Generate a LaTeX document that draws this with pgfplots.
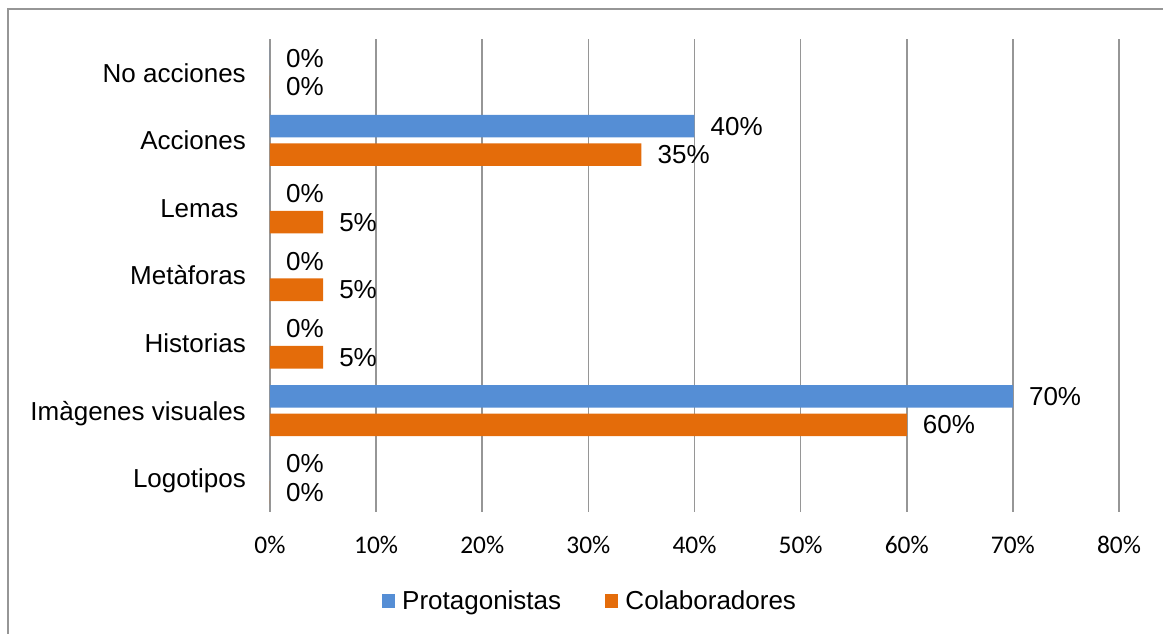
\documentclass[border=0pt]{standalone}
\usepackage{fontspec}
\setmainfont{Liberation Sans}
\newfontfamily\carlito{Carlito}
\usepackage{pgfplots}
\pgfplotsset{compat=1.18}

\definecolor{protblue}{RGB}{85,142,213}
\definecolor{colorange}{RGB}{228,108,10}
\definecolor{gridgray}{RGB}{150,150,150}

\newcommand{\bigtext}{\fontsize{26}{31}\selectfont}

\begin{document}
\begin{tikzpicture}
\begin{axis}[
  at={(0pt,0pt)}, anchor=south west,
  scale only axis,
  width=849pt, height=473pt,
  xbar, bar width=22.6pt,
  xmin=0, xmax=80, ymin=-0.5, ymax=6.5,
  clip=false,
  axis line style={draw=none},
  major tick length=0pt,
  xmajorgrids,
  grid style={gridgray, line width=1.5pt},
  xtick={0,10,...,80},
  xticklabels={0\%,10\%,20\%,30\%,40\%,50\%,60\%,70\%,80\%},
  xticklabel style={font=\carlito\fontsize{25.4}{30}\selectfont, anchor=base, inner sep=0pt, yshift=-42pt},
  ytick={0,...,6},
  yticklabels={Logotipos, Imàgenes visuales, Historias, Metàforas, {Lemas\kern7.5pt}, Acciones, No acciones},
  yticklabel style={font=\bigtext, anchor=base east, inner sep=0pt, xshift=-24pt, yshift=-9.4pt},
  /pgf/number format/assume math mode=true,
  point meta=x,
  nodes near coords={\pgfmathprintnumber{\pgfplotspointmeta}\%},
  nodes near coords style={font=\bigtext, anchor=west, inner sep=0pt, xshift=16pt, text=black},
  legend columns=2,
  legend style={draw=none, fill=none, inner sep=0pt, font=\bigtext,
    at={(0.13157,-0.18816)}, anchor=west,
    column sep=5pt,
    /tikz/every even column/.append style={column sep=42pt}},
  legend image code/.code={\fill[#1,draw=none] (0pt,-6.65pt) rectangle (13.3pt,6.65pt);},
]
% Protagonistas (upper bar of each pair)
\addplot[fill=protblue, draw=none, bar shift=14.2pt] coordinates {
  (0,0) (70,1) (0,2) (0,3) (0,4) (40,5) (0,6)
};
% Colaboradores (lower bar of each pair)
\addplot[fill=colorange, draw=none, bar shift=-14.2pt] coordinates {
  (0,0) (60,1) (5,2) (5,3) (5,4) (35,5) (0,6)
};
\legend{Protagonistas, Colaboradores}
\end{axis}
% chart frame
\draw[gridgray, line width=1.6pt] (-261.7pt,-130pt) -- (-261.7pt,502.7pt) -- (900pt,502.7pt);
\pgfresetboundingbox
\useasboundingbox (-270pt,-122pt) rectangle (893pt,512pt);
\end{tikzpicture}
\end{document}
